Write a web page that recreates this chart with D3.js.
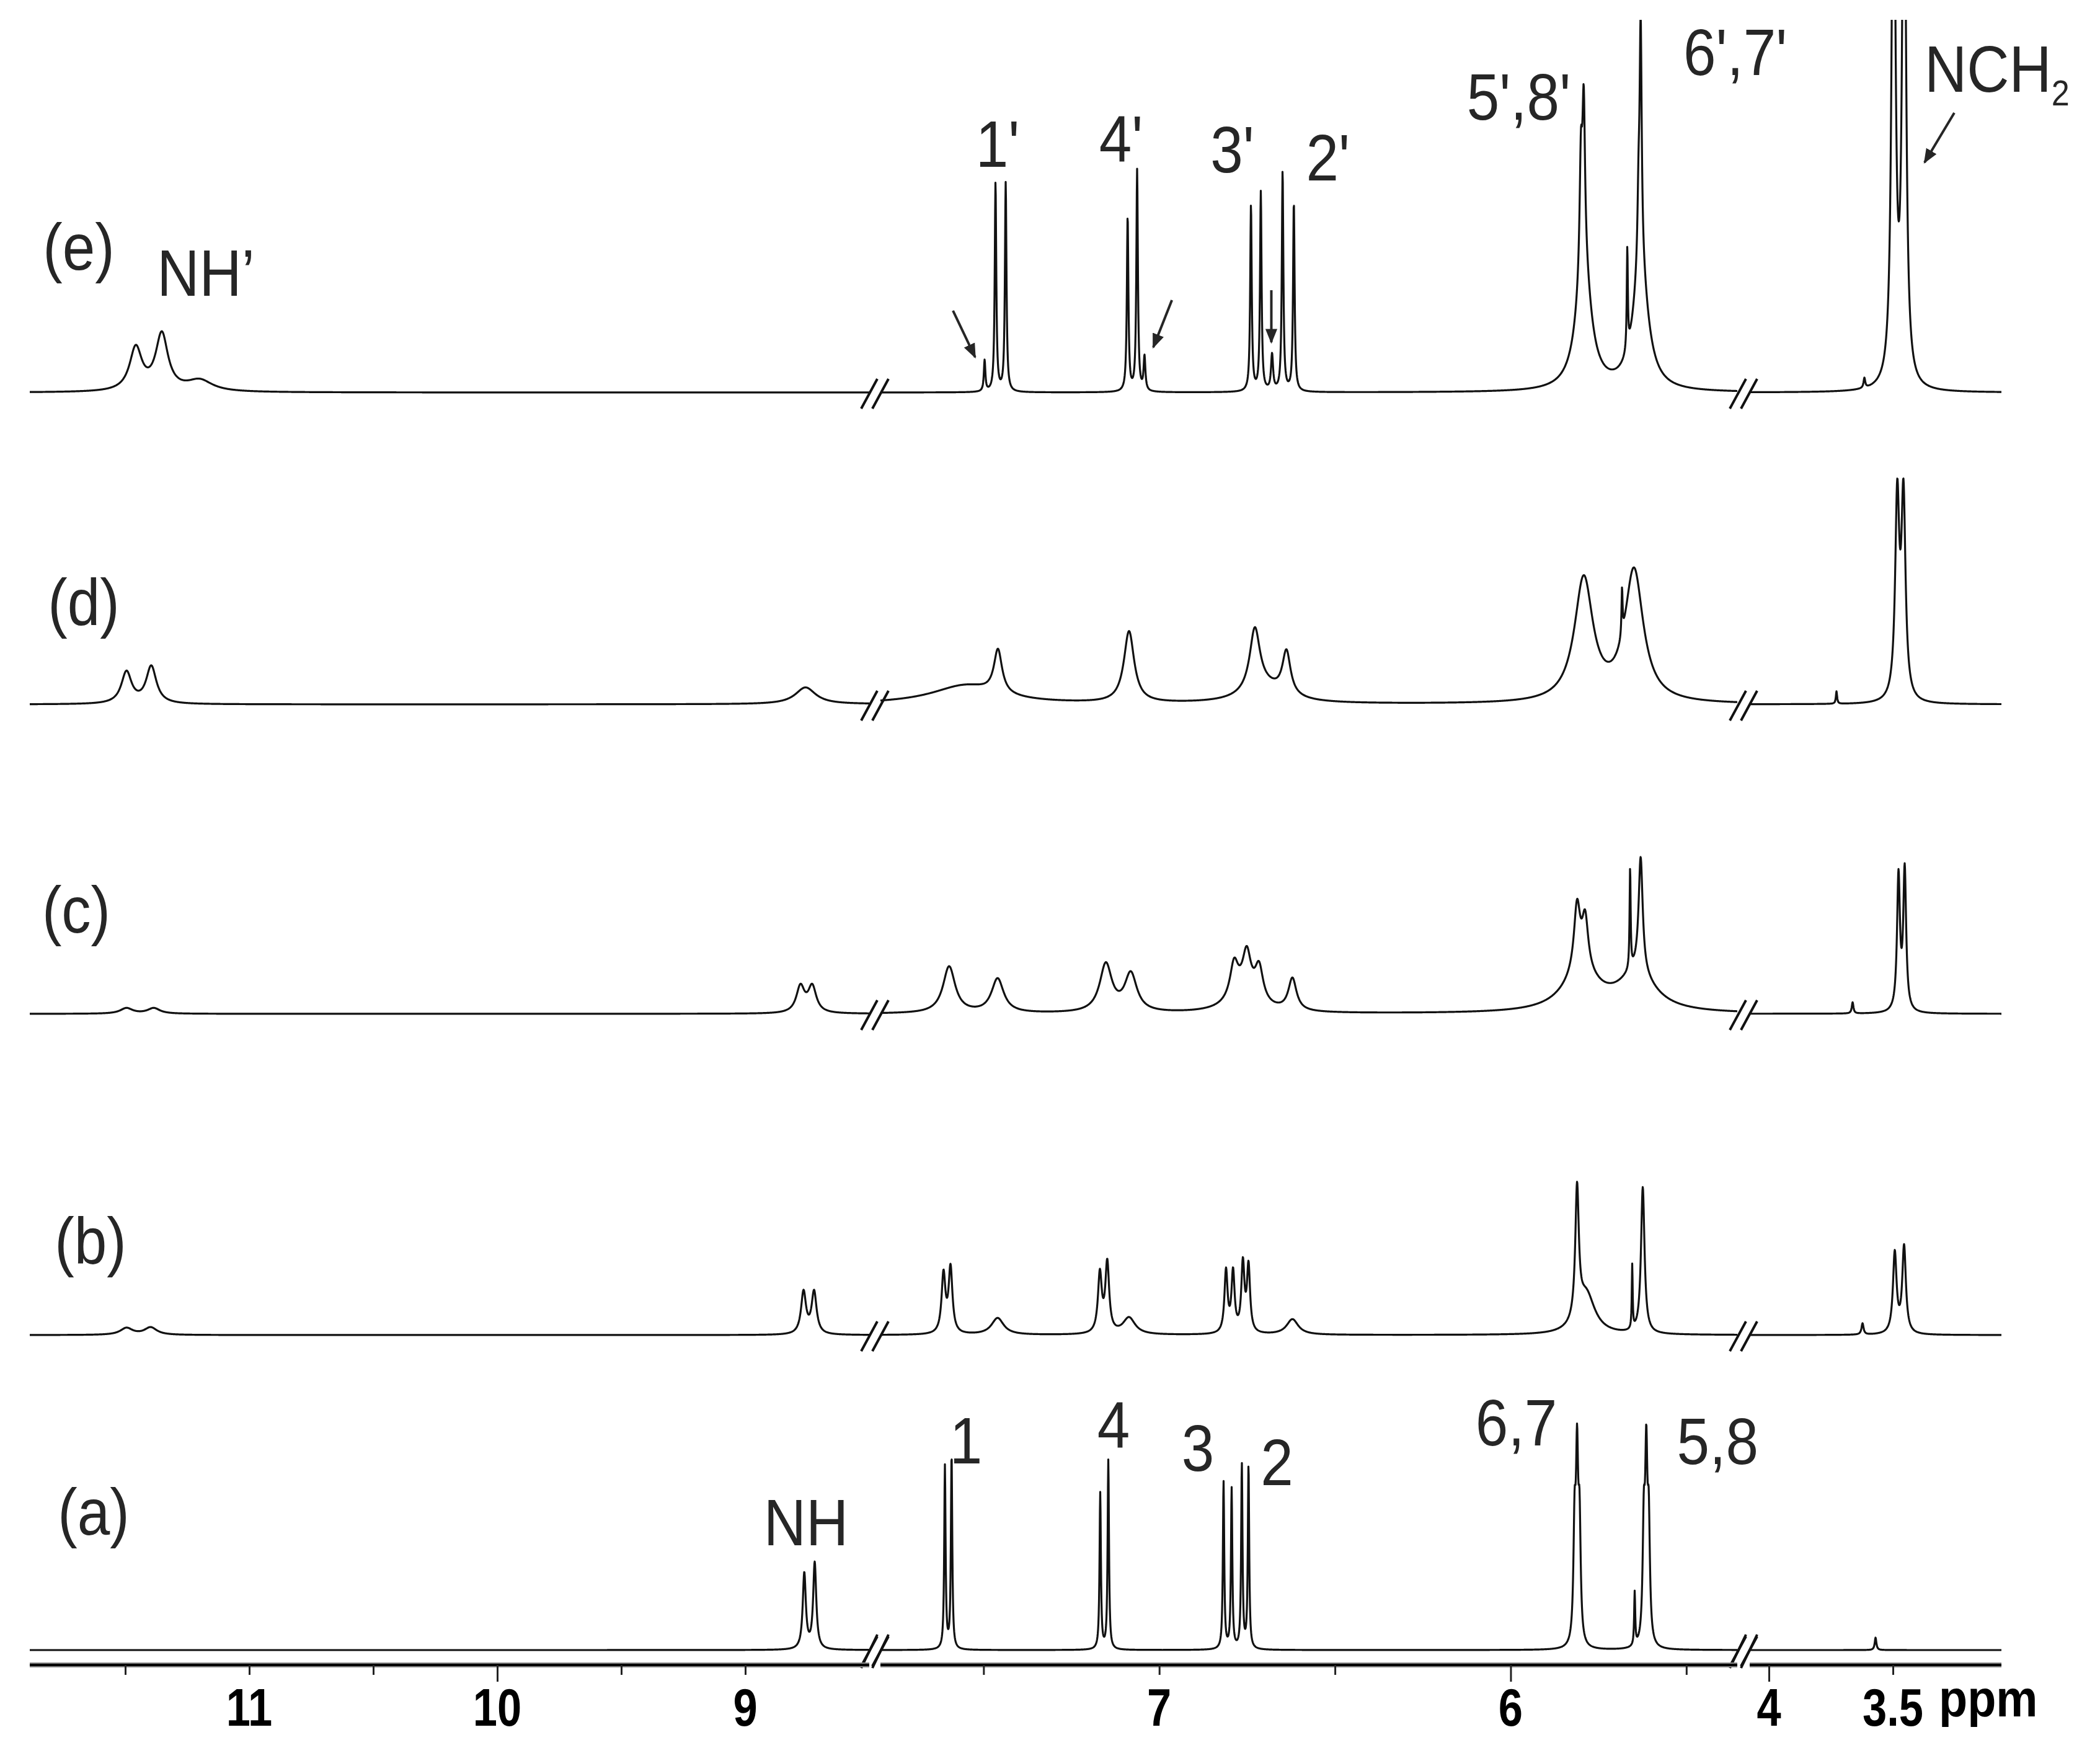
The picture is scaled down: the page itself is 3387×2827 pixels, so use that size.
<!DOCTYPE html>
<html><head><meta charset="utf-8">
<script src="https://cdn.jsdelivr.net/npm/d3@7"></script>
<style>html,body{margin:0;padding:0;background:#fff;} svg{display:block;}</style>
</head><body><svg id="chart" width="3387" height="2827"></svg>
<script>
// ---------------- DATA (chemical shift in ppm, intensity in a.u., half width in ppm) ----------------
const segmentDomains = [[11.885, 8.5], [7.7935, 5.355], [4.0775, 3.0625]];   // broken ppm axis
const shortTicks = [[11.5, 11, 10.5, 9.5, 9], [7.5, 7, 6.5, 5.5], [3.5]];
const longTicks  = [[10], [6], [4]];
const tickLabels = [["11", 11], ["10", 10], ["9", 9], ["7", 7], ["6", 6], ["4", 4], ["3.5", 3.5]];
const axisUnit = "ppm";

const spectrumNames = ["(a)", "(b)", "(c)", "(d)", "(e)"];

const peaksA = [
  [8.762, 122, 0.0075], [8.720, 139, 0.0075],
  [7.610, 295, 0.0023], [7.591, 313, 0.0023],
  [7.168, 252, 0.0023], [7.145, 305, 0.0023],
  [6.817, 270, 0.0023], [6.794, 258, 0.0023],
  [6.765, 297, 0.0023], [6.746, 295, 0.0023],
  [5.818, 180, 0.0039], [5.811, 280, 0.0039], [5.804, 180, 0.0039],
  [5.647, 86, 0.0018],
  [5.621, 180, 0.0039], [5.614, 280, 0.0039], [5.607, 180, 0.0039],
  [3.570, 20, 0.004]
];
const peaksB = [
  [11.495, 11, 0.03], [11.3975, 12, 0.03],
  [8.765, 68, 0.012], [8.7225, 68, 0.012],
  [7.614, 95, 0.0065], [7.594, 105, 0.0065],
  [7.460, 27, 0.021],
  [7.169, 95, 0.0065], [7.148, 112, 0.0065],
  [7.086, 27, 0.021],
  [6.810, 100, 0.0053], [6.790, 97, 0.0053], [6.762, 110, 0.0053], [6.746, 106, 0.0053],
  [6.621, 25, 0.02],
  [5.811, 210, 0.006], [5.785, 65, 0.03],
  [5.654, 103, 0.0015],
  [5.624, 236, 0.006],
  [3.6225, 18, 0.005],
  [3.4925, 130, 0.00875], [3.455, 140, 0.00875]
];
const peaksC = [
  [11.495, 9, 0.03], [11.385, 9, 0.03],
  [8.7775, 42, 0.02], [8.730, 42, 0.02],
  [7.598, 75, 0.021], [7.460, 55, 0.021],
  [7.152, 77, 0.021], [7.081, 61, 0.021],
  [6.787, 55, 0.014], [6.751, 64, 0.014], [6.716, 55, 0.014], [6.621, 52, 0.014], [6.760, 30, 0.05],
  [5.811, 105, 0.0106], [5.788, 82, 0.0106], [5.800, 60, 0.062],
  [5.660, 162, 0.0018], [5.630, 186, 0.007], [5.640, 60, 0.062],
  [3.6625, 18, 0.004],
  [3.4775, 217, 0.007], [3.4525, 227, 0.007]
];
const peaksD = [
  [11.495, 51, 0.025], [11.395, 60, 0.025],
  [8.757, 27, 0.05],
  [7.550, 30, 0.12],
  [7.459, 70, 0.014],
  [7.086, 115, 0.0176],
  [6.728, 100, 0.0176], [6.638, 70, 0.014], [6.700, 25, 0.07],
  [5.792, 198, 0.032], [5.649, 211, 0.032], [5.683, 75, 0.0018],
  [3.7275, 20, 0.003],
  [3.4825, 320, 0.01], [3.4575, 320, 0.01]
];
const peaksE = [
  [11.4575, 69, 0.03], [11.3525, 91, 0.03], [11.200, 18, 0.0625],
  [7.497, 50, 0.0026], [7.466, 337, 0.0026], [7.437, 337, 0.0026],
  [7.090, 282, 0.0026], [7.063, 357, 0.0026], [7.042, 55, 0.003],
  [6.739, 300, 0.0026], [6.711, 321, 0.0026], [6.679, 58, 0.0035],
  [6.649, 355, 0.0026], [6.617, 305, 0.0026],
  [5.800, 180, 0.0044], [5.792, 250, 0.0044], [5.792, 200, 0.025],
  [5.668, 164, 0.0018],
  [5.636, 100, 0.0035], [5.630, 380, 0.0035], [5.630, 200, 0.025],
  [3.615, 16, 0.004],
  [3.4975, 1000, 0.0085], [3.455, 1000, 0.0085]
];
const peakLists = [peaksA, peaksB, peaksC, peaksD, peaksE];

// annotations: [text, ppm, intensity above the trace baseline]
const panelLabelPos = [[11.6275, 186], [11.640, 115], [11.6975, 131], [11.6675, 128], [11.6875, 198]];
const labelsA = [["NH", 8.755, 169], ["1", 7.550, 301], ["4", 7.130, 326], ["3", 6.890, 289], ["2", 6.665, 266], ["6,7", 5.984, 330], ["5,8", 5.411, 300]];
const labelsE = [["NH\u2019", 11.175, 156], ["1'", 7.460, 364], ["4'", 7.109, 372], ["3'", 6.792, 355], ["2'", 6.520, 342], ["5',8'", 5.977, 440], ["6',7'", 5.361, 512]];
const labelNCH2 = ["NCH", "2", 3.3725, 485];
// arrows: [ppm tail, intensity tail, ppm tip, intensity tip]
const arrowsE = [[7.587, 132, 7.524, 57], [6.964, 149, 7.017, 73], [6.681, 165, 6.681, 81], [3.2525, 451, 3.3725, 371]];

// ---------------- LAYOUT ----------------
const W = 3387, H = 2827;
const segmentRanges = [[48, 1402], [1420, 2802], [2822, 3228]];
const traceBase = [2661, 2153, 1635, 1136, 633];
const axisY = 2685;
const topClip = 32;
const font = "'Liberation Sans', Arial, Helvetica, sans-serif";
const textColor = "#262626";

const svg = d3.select("#chart");
const xs = segmentDomains.map((d, i) => d3.scaleLinear().domain(d).range(segmentRanges[i]));
const y = d3.scaleLinear().domain([0, 1000]).range([0, 1000]);

function xOf(p) {
  for (const s of xs) { const [a, b] = s.domain(); if (p <= a && p >= b) return s(p); }
  return xs[0](p);
}
function spectrumValue(peaks, p) {
  let v = 0;
  for (const [p0, h, w] of peaks) { const t = (p - p0) / w; v += h / (1 + t * t); }
  return v;
}

svg.append("defs").append("clipPath").attr("id", "clipTop")
  .append("rect").attr("x", 0).attr("y", topClip).attr("width", W).attr("height", H - topClip);
svg.select("defs").append("marker").attr("id", "ah").attr("viewBox", "0 0 10 10")
  .attr("refX", 9).attr("refY", 5).attr("markerWidth", 6).attr("markerHeight", 6)
  .attr("markerUnits", "strokeWidth").attr("orient", "auto")
  .append("path").attr("d", "M0,1 L10,5 L0,9 Z").attr("fill", textColor);

const line = d3.line().x(d => d[0]).y(d => d[1]);
const traces = svg.append("g").attr("clip-path", "url(#clipTop)");

peakLists.forEach((peaks, i) => {
  const base = traceBase[i];
  xs.forEach(s => {
    const [r0, r1] = s.range();
    const pts = [];
    for (let px = r0; px <= r1; px += 0.5) pts.push([px, base - y(spectrumValue(peaks, s.invert(px)))]);
    traces.append("path").attr("d", line(pts)).attr("fill", "none")
      .attr("stroke", "#111").attr("stroke-width", 3.2).attr("stroke-linejoin", "round");
  });
});

// break marks
function slashes(cx, cy, hdx, hdy) {
  [-9, 9].forEach(o => {
    svg.append("line").attr("x1", cx + o - hdx).attr("y1", cy + hdy)
      .attr("x2", cx + o + hdx).attr("y2", cy - hdy)
      .attr("stroke", "#111").attr("stroke-width", 4);
  });
}
const breakCenters = [(segmentRanges[0][1] + segmentRanges[1][0]) / 2, (segmentRanges[1][1] + segmentRanges[2][0]) / 2];
traceBase.forEach(b => breakCenters.forEach(cx => slashes(cx, b + 2, 13, 24)));
breakCenters.forEach(cx => slashes(cx, axisY - 22, 13, 27));

// axis
const axisG = svg.append("g").attr("transform", `translate(0,${axisY})`);
xs.forEach((s, i) => {
  const [r0, r1] = s.range();
  axisG.append("line").attr("x1", r0).attr("x2", r1).attr("y1", 0).attr("y2", 0)
    .attr("stroke", "#8a8a8a").attr("stroke-width", 8);
  axisG.append("line").attr("x1", r0).attr("x2", r1).attr("y1", 0).attr("y2", 0)
    .attr("stroke", "#000").attr("stroke-width", 4);
  const gs = axisG.append("g").call(d3.axisBottom(s).tickValues(shortTicks[i]).tickSize(16).tickFormat(""));
  const gl = axisG.append("g").call(d3.axisBottom(s).tickValues(longTicks[i]).tickSize(27).tickFormat(""));
  [gs, gl].forEach(g => {
    g.select(".domain").remove();
    g.selectAll(".tick line").attr("stroke", "#222").attr("stroke-width", 3);
  });
});
tickLabels.forEach(([t, v]) => {
  svg.append("text").attr("transform", `translate(${xOf(v)},2783) scale(0.82,1)`)
    .attr("text-anchor", "middle").attr("font-family", font).attr("font-weight", "bold")
    .attr("font-size", 86).attr("fill", "#000").text(t);
});
svg.append("text").attr("transform", `translate(${xOf(3.5) + 74},2768) scale(0.9,1)`)
  .attr("font-family", font).attr("font-weight", "bold").attr("font-size", 84)
  .attr("fill", "#000").text(axisUnit);

// labels
function label(t, p, inten, base, anchor) {
  svg.append("text").attr("transform", `translate(${xOf(p)},${base - y(inten)}) scale(0.9,1)`)
    .attr("text-anchor", anchor || "middle").attr("font-family", font).attr("font-size", 105)
    .attr("fill", textColor).text(t);
}
spectrumNames.forEach((n, i) => label(n, panelLabelPos[i][0], panelLabelPos[i][1], traceBase[i]));
labelsA.forEach(([t, p, v]) => label(t, p, v, traceBase[0]));
labelsE.forEach(([t, p, v]) => label(t, p, v, traceBase[4]));
const nch = svg.append("text")
  .attr("transform", `translate(${xOf(labelNCH2[2])},${traceBase[4] - y(labelNCH2[3])}) scale(0.9,1)`)
  .attr("font-family", font).attr("font-size", 105).attr("fill", textColor);
nch.append("tspan").text(labelNCH2[0]);
nch.append("tspan").attr("font-size", 58).attr("dy", 22).text(labelNCH2[1]);

arrowsE.forEach(([p1, v1, p2, v2]) => {
  svg.append("line").attr("x1", xOf(p1)).attr("y1", traceBase[4] - y(v1))
    .attr("x2", xOf(p2)).attr("y2", traceBase[4] - y(v2))
    .attr("stroke", textColor).attr("stroke-width", 4).attr("marker-end", "url(#ah)");
});
</script></body></html>
